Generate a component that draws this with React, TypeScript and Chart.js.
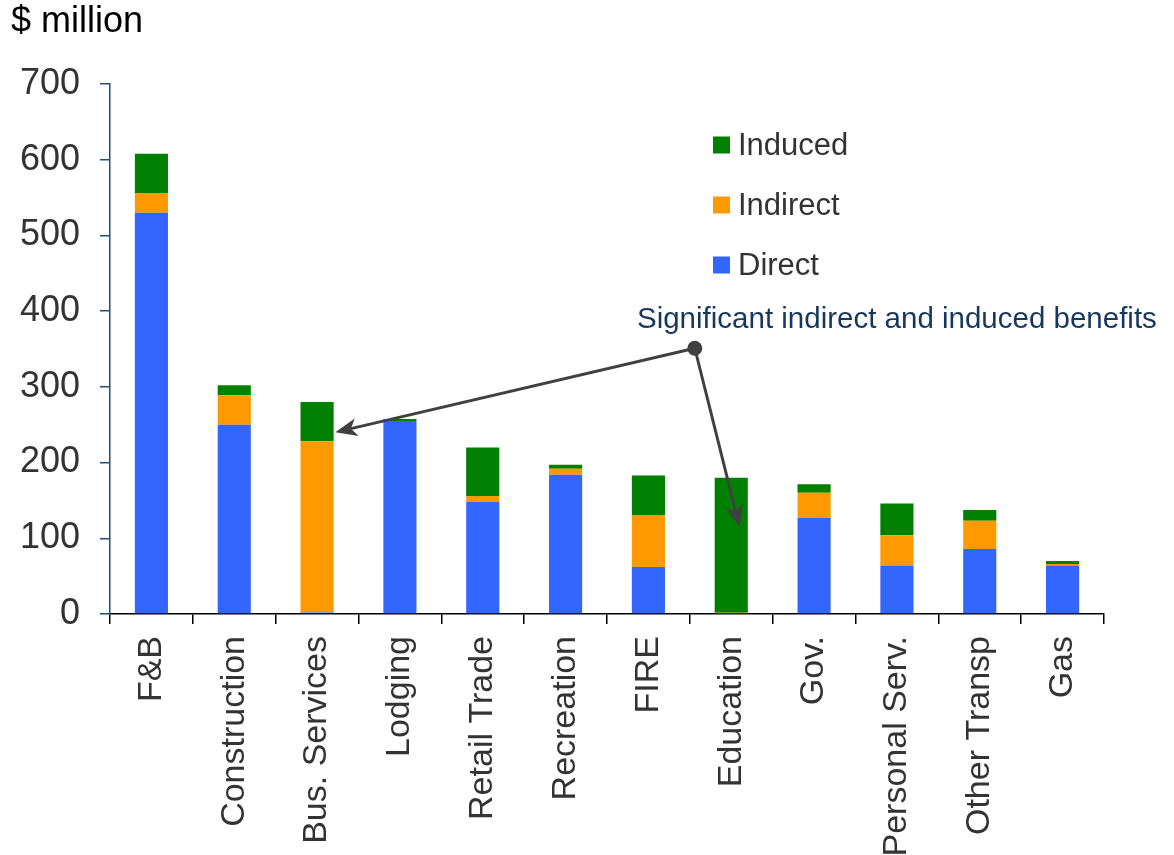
import React, { useEffect, useRef } from "react";
import { Chart, registerables } from "chart.js";

Chart.register(...registerables);

const FONT = "'Liberation Sans', Arial, Helvetica, sans-serif";

const categories = [
  "F&B",
  "Construction",
  "Bus. Services",
  "Lodging",
  "Retail Trade",
  "Recreation",
  "FIRE",
  "Education",
  "Gov.",
  "Personal Serv.",
  "Other Transp",
  "Gas",
];

const directValues = [530, 250, 2, 255, 148, 184, 62, 0, 127, 64, 86, 64];
const indirectValues = [26, 39, 226, 0, 8, 8, 68, 1.5, 33, 40, 37, 2];
const inducedValues = [52, 13, 52, 2.5, 64, 5, 53, 178.5, 11.5, 42, 14.5, 4];

const seriesNames = ["Direct", "Indirect", "Induced"];
const seriesColors = ["#3366FF", "#FF9900", "#008000"];

const yTicks = [0, 100, 200, 300, 400, 500, 600, 700];

const unitLabel = "$ million";
const annotationText = "Significant indirect and induced benefits";

// annotation anchors in data coordinates (category index, value)
const annotationDot = [6.56, 351];
const annotationTips = [
  [2.22, 240],
  [7.1, 115],
];
const annotationTextAnchor = [9.0, 389];

const overlayPlugin = {
  id: "overlay",
  afterDraw(chart: any) {
    const ctx = chart.ctx;
    const xs = chart.scales.x;
    const ys = chart.scales.y;
    const area = chart.chartArea;
    ctx.save();

    // unit label
    ctx.fillStyle = "#000";
    ctx.font = `36px ${FONT}`;
    ctx.textAlign = "left";
    ctx.textBaseline = "middle";
    ctx.fillText(unitLabel, 11, 22);

    // legend (reverse order)
    const ds = chart.data.datasets;
    const legendX = area.left + 603;
    let ly = area.top + 61;
    ctx.font = `31px ${FONT}`;
    for (let i = ds.length - 1; i >= 0; i--) {
      ctx.fillStyle = ds[i].backgroundColor;
      ctx.fillRect(legendX, ly - 8.5, 17, 17);
      ctx.fillStyle = "#333";
      ctx.textBaseline = "middle";
      ctx.fillText(ds[i].label, legendX + 25, ly + 1);
      ly += 60;
    }

    // annotation text
    ctx.fillStyle = "#17375E";
    ctx.font = `29.5px ${FONT}`;
    ctx.textAlign = "center";
    ctx.textBaseline = "middle";
    ctx.fillText(
      annotationText,
      xs.getPixelForValue(annotationTextAnchor[0]),
      ys.getPixelForValue(annotationTextAnchor[1])
    );

    // arrows
    const dx = xs.getPixelForValue(annotationDot[0]);
    const dy = ys.getPixelForValue(annotationDot[1]);
    ctx.strokeStyle = "#404040";
    ctx.fillStyle = "#404040";
    ctx.lineWidth = 3;
    for (const t of annotationTips) {
      const tx = xs.getPixelForValue(t[0]);
      const ty = ys.getPixelForValue(t[1]);
      const ang = Math.atan2(ty - dy, tx - dx);
      const headLen = 22;
      const headW = 9;
      const bx = tx - Math.cos(ang) * headLen;
      const by = ty - Math.sin(ang) * headLen;
      ctx.beginPath();
      ctx.moveTo(dx, dy);
      ctx.lineTo(bx + Math.cos(ang) * 6, by + Math.sin(ang) * 6);
      ctx.stroke();
      ctx.beginPath();
      ctx.moveTo(tx, ty);
      ctx.lineTo(bx + Math.sin(ang) * headW, by - Math.cos(ang) * headW);
      ctx.lineTo(bx + Math.cos(ang) * 6, by + Math.sin(ang) * 6);
      ctx.lineTo(bx - Math.sin(ang) * headW, by + Math.cos(ang) * headW);
      ctx.closePath();
      ctx.fill();
    }
    ctx.beginPath();
    ctx.arc(dx, dy, 7.5, 0, Math.PI * 2);
    ctx.fill();

    ctx.restore();
  },
};

export default function App() {
  const canvasRef = useRef<HTMLCanvasElement | null>(null);

  useEffect(() => {
    document.body.style.margin = "0";
    const canvas = canvasRef.current;
    if (!canvas) return;
    const valueSets = [directValues, indirectValues, inducedValues];
    const chart = new Chart(canvas, {
      type: "bar",
      data: {
        labels: categories,
        datasets: seriesNames.map((name, i) => ({
          label: name,
          data: valueSets[i],
          backgroundColor: seriesColors[i],
          borderWidth: 0,
          barPercentage: 0.4,
          categoryPercentage: 1,
        })),
      },
      options: {
        responsive: false,
        animation: false,
        devicePixelRatio: 1,
        layout: { padding: { top: 84, right: 70, left: 0, bottom: 0 } },
        plugins: {
          legend: { display: false },
          tooltip: { enabled: false },
          title: { display: false },
        },
        scales: {
          x: {
            stacked: true,
            afterFit: (scale: any) => {
              scale.height = 241;
            },
            grid: {
              drawOnChartArea: false,
              drawTicks: true,
              tickLength: 10,
              color: "#000",
              lineWidth: 1.5,
              offset: true,
            },
            border: { color: "#000", width: 1.5 },
            ticks: {
              autoSkip: false,
              minRotation: 90,
              maxRotation: 90,
              padding: 12,
              color: "#333",
              font: { family: FONT, size: 34 },
            },
          },
          y: {
            stacked: true,
            min: 0,
            max: 700,
            afterFit: (scale: any) => {
              scale.width = 110;
            },
            afterBuildTicks: (scale: any) => {
              scale.ticks = yTicks.map((v) => ({ value: v }));
            },
            grid: {
              drawOnChartArea: false,
              drawTicks: true,
              tickLength: 10,
              color: "#1F4E79",
              lineWidth: 1.5,
            },
            border: { color: "#1F4E79", width: 1.5 },
            ticks: {
              padding: 20,
              color: "#333",
              font: { family: FONT, size: 36 },
            },
          },
        },
      },
      plugins: [overlayPlugin],
    });
    return () => chart.destroy();
  }, []);

  return (
    <div style={{ width: 1174, height: 855, background: "#fff" }}>
      <canvas ref={canvasRef} width={1174} height={855} />
    </div>
  );
}
